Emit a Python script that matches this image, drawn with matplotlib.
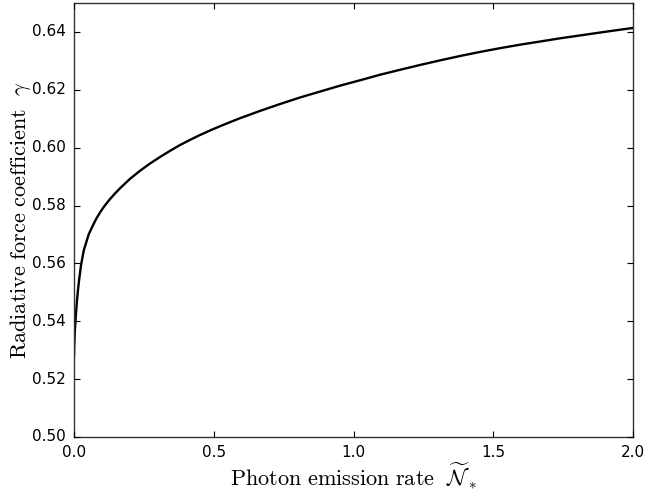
import matplotlib
matplotlib.use("Agg")
import matplotlib.pyplot as plt

# radiative force coefficient gamma vs photon emission rate
emission_rate = [0.0, 0.001, 0.003, 0.007, 0.011, 0.014, 0.018, 0.025, 0.035,
                 0.0525, 0.065, 0.08, 0.095, 0.108, 0.125, 0.145, 0.165, 0.2,
                 0.236, 0.27, 0.308, 0.345, 0.379, 0.415, 0.451, 0.49, 0.522,
                 0.56, 0.594, 0.665, 0.737, 0.81, 0.88, 0.95, 1.023, 1.094,
                 1.165, 1.238, 1.31, 1.381, 1.452, 1.524, 1.595, 1.667, 1.738,
                 1.81, 1.881, 1.94, 2.0]
gamma = [0.5274, 0.5315, 0.5365, 0.5425, 0.5475, 0.5505, 0.554, 0.5593, 0.5645,
         0.570, 0.5726, 0.5755, 0.5779, 0.5797, 0.5818, 0.5840, 0.5860, 0.5892,
         0.5920, 0.5944, 0.5968, 0.5990, 0.6009, 0.6027, 0.6044, 0.6061, 0.6074,
         0.6089, 0.6102, 0.6127, 0.6151, 0.6174, 0.6194, 0.6214, 0.6233, 0.6252,
         0.6269, 0.6286, 0.6302, 0.6317, 0.6331, 0.6344, 0.6356, 0.6367, 0.6378,
         0.6388, 0.6398, 0.6406, 0.6414]

xTicks = [0.0, 0.5, 1.0, 1.5, 2.0]
yTicks = [0.50, 0.52, 0.54, 0.56, 0.58, 0.60, 0.62, 0.64]

plt.style.use("classic")
plt.rcParams["mathtext.fontset"] = "cm"

fig = plt.figure(figsize=(6.45, 4.95), dpi=100, facecolor="white")
axis = fig.add_axes([0.1147, 0.1172, 0.8672, 0.8767])
axis.set_facecolor("white")

axis.plot(emission_rate, gamma, color="black", linewidth=1.7,
          solid_joinstyle="round", solid_capstyle="round")

axis.set_xlim(0.0, 2.0)
axis.set_ylim(0.50, 0.65)
axis.set_xticks(xTicks)
axis.set_yticks(yTicks)
axis.set_xticklabels(["%.1f" % t for t in xTicks])
axis.set_yticklabels(["%.2f" % t for t in yTicks])
axis.tick_params(labelsize=11, direction="in", length=4, width=0.8, pad=6)
for spine in axis.spines.values():
    spine.set_linewidth(1.0)
    spine.set_color("#333333")

axis.set_xlabel(r"$\mathrm{Photon\ emission\ rate}\ \ \widetilde{\mathcal{N}}_*$",
                fontsize=16, labelpad=0)
axis.set_ylabel(r"$\mathrm{Radiative\ force\ coefficient}\ \ \gamma$",
                fontsize=16, labelpad=-1)

fig.savefig("out.png", dpi=100, facecolor="white")
